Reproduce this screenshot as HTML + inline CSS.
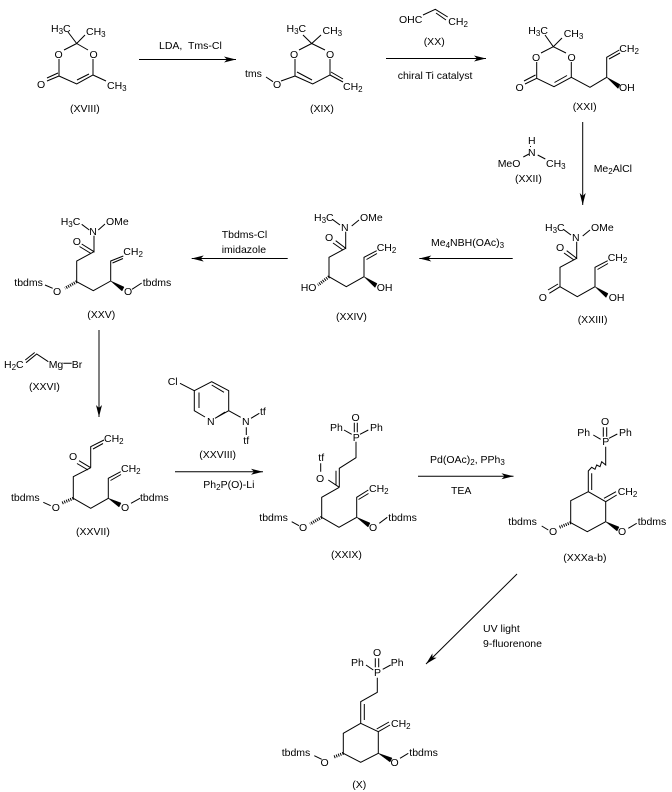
<!DOCTYPE html>
<html><head><meta charset="utf-8"><style>
html,body{margin:0;padding:0;background:#fff}
svg{display:block}
path,line{fill:none;stroke:#000;stroke-width:1}
.w{fill:#000;stroke:#000;stroke-width:.5}
.h{stroke-width:3;stroke-dasharray:1 1.2}
text{font-family:"Liberation Sans",sans-serif;font-size:10.5px;fill:#000}
.s{font-size:8px}
</style></head><body>
<svg width="672" height="792" viewBox="0 0 672 792" xmlns="http://www.w3.org/2000/svg">
<defs><marker id="a" markerUnits="userSpaceOnUse" markerWidth="14" markerHeight="8" refX="12" refY="4" orient="auto"><polygon points="0,1 12,4 0,7 3,4" fill="#000"/></marker></defs>

<!-- Arrows -->
<path marker-end="url(#a)" d="M139 59.5H236"/>
<path marker-end="url(#a)" d="M386 58.5H486"/>
<path marker-end="url(#a)" d="M582.7 122V205"/>
<path marker-end="url(#a)" d="M512.7 258.5H419.3"/>
<path marker-end="url(#a)" d="M287.7 258.5H191.7"/>
<path marker-end="url(#a)" d="M99 330V417"/>
<path marker-end="url(#a)" d="M175 471.7H263"/>
<path marker-end="url(#a)" d="M418 476.3H513.5"/>
<path marker-end="url(#a)" d="M517 574L426 664"/>

<!-- XVIII -->
<path d="M68 32L76.7 43.5L85 35M76.7 43.5L64 50M76.7 43.5L88 50M59 59V76L76.7 84L93 75V59M77 80L89 74M93 75L106 81M59 76L47 81M58 73L47 78"/>
<text x="51" y="32">H<tspan class="s" dy="2">3</tspan><tspan dy="-2">C</tspan></text>
<text x="86" y="35">CH<tspan class="s" dy="2">3</tspan></text>
<text x="54.5" y="58">O</text><text x="89.5" y="58">O</text><text x="37" y="88">O</text>
<text x="107" y="89">CH<tspan class="s" dy="2">3</tspan></text>
<text x="70" y="112">(XVIII)</text>
<text x="159" y="49">LDA,&#160; Tms-Cl</text>

<!-- XIX -->
<path d="M303 35L311.7 43.5L321 35M311.7 43.5L299 50M311.7 43.5L325 50M295 59V76L312.7 84L330 75V59M297 72L312 80M330 75L343 82M331 72L343 79M266 77L273 81.7M281 81L295 76"/>
<text x="286.5" y="32">H<tspan class="s" dy="2">3</tspan><tspan dy="-2">C</tspan></text>
<text x="322.5" y="34">CH<tspan class="s" dy="2">3</tspan></text>
<text x="290" y="58">O</text><text x="326" y="58">O</text><text x="273" y="88">O</text>
<text x="245" y="77">tms</text>
<text x="343" y="90">CH<tspan class="s" dy="2">2</tspan></text>
<text x="310" y="112">(XIX)</text>

<!-- XX -->
<path d="M423 15L435.3 9.3L447.7 17M436 13L446 20"/>
<text x="399" y="23">OHC</text>
<text x="448.3" y="25">CH<tspan class="s" dy="2">2</tspan></text>
<text x="423.7" y="45">(XX)</text>
<text x="397.7" y="79">chiral Ti catalyst</text>

<!-- XXI -->
<path d="M545 35L553.3 46.7L562 38M553.3 46.7L541 53M553.3 46.7L566 53M536.7 62V78.3L554 86.7L571.3 77.3V62M554.5 82.5L567 75.5M536.7 78.3L525 84M535.5 75L524 81M571.3 77.3L590 87.3L606.7 77.3V57.3L619.3 50M609 59L620 53"/>
<polygon class="w" points="606.7,77.3 618,88.5 620,84.5"/>
<text x="528.3" y="34">H<tspan class="s" dy="2">3</tspan><tspan dy="-2">C</tspan></text>
<text x="563.7" y="37">CH<tspan class="s" dy="2">3</tspan></text>
<text x="532" y="61">O</text><text x="567.5" y="61">O</text><text x="515.5" y="91">O</text>
<text x="619.3" y="52">CH<tspan class="s" dy="2">2</tspan></text>
<text x="619" y="91">OH</text>
<text x="572.7" y="110">(XXI)</text>

<!-- XXII -->
<path d="M530.5 147V146M523.3 157L529 154M537.7 155L545.3 159"/>
<text x="528" y="144">H</text>
<text x="528" y="156">N</text>
<text x="497.7" y="167">MeO</text>
<text x="546" y="167">CH<tspan class="s" dy="2">3</tspan></text>
<text x="515" y="182">(XXII)</text>
<text x="593.7" y="172">Me<tspan class="s" dy="2">2</tspan><tspan dy="-2">AlCl</tspan></text>

<!-- XXIII -->
<path d="M563.3 229.3L571 235M582.7 236L590 230M576.7 241.7V258.3L566.7 250.7M574 260L564 253M576.7 258.3L560 267.3V286.7L549.3 293.3M558 284L548 290M560 286.7L577.3 296.7L595 286.7V267.3L607.7 260.7M597.5 269.5L608 263.5"/>
<polygon class="w" points="595,286.7 606,297.5 608,293.5"/>
<text x="545" y="231">H<tspan class="s" dy="2">3</tspan><tspan dy="-2">C</tspan></text>
<text x="572" y="241">N</text>
<text x="591" y="231">OMe</text>
<text x="556" y="251">O</text>
<text x="538.7" y="301">O</text>
<text x="607.7" y="261">CH<tspan class="s" dy="2">2</tspan></text>
<text x="608.7" y="301">OH</text>
<text x="577.7" y="323">(XXIII)</text>
<text x="431" y="246">Me<tspan class="s" dy="2">4</tspan><tspan dy="-2">NBH(OAc)</tspan><tspan class="s" dy="2">3</tspan></text>

<!-- XXIV -->
<path d="M332.3 219.3L340 225M351.7 226L359 220M345.7 231.7V248.3L335.7 240.7M343 250L333 243M345.7 248.3L329 257.3V276.7L346.3 286.7L364 276.7V257.3L376.7 250.7M366.5 259.5L377 253.5"/>
<polygon class="w" points="364,276.7 375,287.5 377,283.5"/>
<line class="h" x1="329" y1="276.7" x2="318" y2="285"/>
<text x="314" y="221">H<tspan class="s" dy="2">3</tspan><tspan dy="-2">C</tspan></text>
<text x="341" y="231">N</text>
<text x="360" y="221">OMe</text>
<text x="325" y="241">O</text>
<text x="376.7" y="251">CH<tspan class="s" dy="2">2</tspan></text>
<text x="376.7" y="291">OH</text>
<text x="300.7" y="291">HO</text>
<text x="336" y="320">(XXIV)</text>
<text x="221.7" y="238">Tbdms-Cl</text>
<text x="221.7" y="253">imidazole</text>

<!-- XXV -->
<path d="M81.7 224.3L89.3 230M98.3 230L105 224M94 235.7V251.7L81.7 244M91 253.5L79.5 246.5M94 251.7L76.7 261V281.7L93.3 290.7L110.7 281V261L123.3 256M112.5 263L123 258.5M45 285L52.7 288.3M132 289.3L141.7 283"/>
<polygon class="w" points="110.7,281 122,291 124,287"/>
<line class="h" x1="76.7" y1="281.7" x2="65" y2="288.3"/>
<text x="60.7" y="225">H<tspan class="s" dy="2">3</tspan><tspan dy="-2">C</tspan></text>
<text x="89.3" y="235">N</text>
<text x="106" y="225">OMe</text>
<text x="72.7" y="245">O</text>
<text x="123.3" y="255">CH<tspan class="s" dy="2">2</tspan></text>
<text x="14.3" y="286">tbdms</text>
<text x="53" y="295">O</text><text x="124" y="295">O</text>
<text x="142.7" y="286">tbdms</text>
<text x="87.3" y="318">(XXV)</text>

<!-- XXVI -->
<path d="M26 362.7L36.7 354L48.3 361.7M25.3 360L34.7 352.5M63.3 363.3H71.7"/>
<text x="4" y="368">H<tspan class="s" dy="2">2</tspan><tspan dy="-2">C</tspan></text>
<text x="48.7" y="368">Mg</text>
<text x="71.7" y="368">Br</text>
<text x="29" y="390">(XXVI)</text>

<!-- XXVII -->
<path d="M90.7 467.7V446.7L104 440M93 449L103 443.5M90.7 467.7L79 460.7M88 470L77 463.5M90.7 467.7L73.3 476.7V498.3L90.7 508.3L108.3 498.3V478.3L120.7 471.7M110.5 480.5L121 474.5M43.3 502.3L50.7 505.7M131 503.3L140 498.3"/>
<polygon class="w" points="108.3,498.3 119,507 121,503"/>
<line class="h" x1="73.3" y1="498.3" x2="61.7" y2="503.3"/>
<text x="104" y="442">CH<tspan class="s" dy="2">2</tspan></text>
<text x="69" y="460">O</text>
<text x="121" y="472">CH<tspan class="s" dy="2">2</tspan></text>
<text x="11" y="501">tbdms</text>
<text x="51.7" y="511">O</text><text x="121" y="511">O</text>
<text x="140" y="501">tbdms</text>
<text x="76" y="535">(XXVII)</text>

<!-- XXVIII -->
<path d="M180 383.3L194.3 390.7L211.7 381.7L228.7 390.7V410.7L215 418.3M194.3 390.7V410.7L205 417M199 392.5V408M211.7 385L224 392.3M216.7 417.3L225 412M228.7 410.7L240.7 417.3M246.3 427.3V435M251 418.3L259.3 413.3"/>
<text x="167.7" y="385">Cl</text>
<text x="207" y="425">N</text>
<text x="242" y="425">N</text>
<text x="243.3" y="444">tf</text>
<text x="260" y="415">tf</text>
<text x="199.3" y="458">(XXVIII)</text>
<text x="203.3" y="488">Ph<tspan class="s" dy="2">2</tspan><tspan dy="-2">P(O)-Li</tspan></text>

<!-- XXIX -->
<path d="M354.3 422.7V432.3M357.3 422.7V432.3M344 430L351.7 434.3M360 434.3L368.3 430M356 441.7V457.7L339.3 468.3V487.3M336 470.7V485M339.3 487.3L321.7 497.3V517.3L339 527.3L356.7 517.3V497.3L368.3 490M358.5 499.5L368.5 493.5M320.7 463.3V471.7M328.3 480L339.3 487.3M291.7 521.7L299 525.7M379.3 523.3L387.3 517.3"/>
<polygon class="w" points="356.7,517.3 368,527 370,523"/>
<line class="h" x1="321.7" y1="517.3" x2="310" y2="524"/>
<text x="351.5" y="421">O</text>
<text x="352.7" y="441">P</text>
<text x="330" y="431">Ph</text>
<text x="370" y="431">Ph</text>
<text x="318.3" y="461">tf</text>
<text x="316" y="482">O</text>
<text x="369" y="492">CH<tspan class="s" dy="2">2</tspan></text>
<text x="259.3" y="521">tbdms</text>
<text x="299" y="531">O</text><text x="369" y="531">O</text>
<text x="388.3" y="521">tbdms</text>
<text x="331" y="558">(XXIX)</text>
<text x="430" y="463">Pd(OAc)<tspan class="s" dy="2">2</tspan><tspan dy="-2">, PPh</tspan><tspan class="s" dy="2">3</tspan></text>
<text x="451" y="494">TEA</text>

<!-- XXXa-b -->
<path d="M603.3 427.3V436.7M606.7 427.3V436.7M593.3 435L600.7 439.3M609 438.3L617.3 434M605.7 446.7V465L601.7 461.7L600 466.7L596.7 465L595 469.3L591.7 467.3L588.3 471V491.7M591.7 473.3V490M588.3 491.7L570.7 500.7V522.7L587.3 531.7L605.7 521.7V501.7L588.3 491.7M605.7 501.7L616.7 495M604 498.3L616 491.7M541.7 526L548.3 530M628.3 528.3L636.7 523.3"/>
<polygon class="w" points="605.7,521.7 617,531 619,527"/>
<line class="h" x1="570.7" y1="522.7" x2="559.3" y2="527.3"/>
<text x="601" y="425">O</text>
<text x="602.3" y="445">P</text>
<text x="577.3" y="436">Ph</text>
<text x="619" y="436">Ph</text>
<text x="617.7" y="495">CH<tspan class="s" dy="2">2</tspan></text>
<text x="508.3" y="525">tbdms</text>
<text x="549" y="535">O</text><text x="618" y="535">O</text>
<text x="637.7" y="525">tbdms</text>
<text x="563.3" y="561">(XXXa-b)</text>
<text x="483" y="632">UV light</text>
<text x="483" y="647">9-fluorenone</text>

<!-- X -->
<path d="M375.3 658.3V667.3M378.7 658.3V667.3M366 665L373.3 670M382.7 669.3L390.7 665M377.3 677.7V692.3L360.7 701.7V723.3M364.3 704V720M360.7 723.3L343.3 733.3V753.3L360.7 762.3L378.3 753.3V731.7L360.7 723.3M378.3 731.7L390 725M376.7 729L389 722M314.3 755.7L321.7 759.3M400 758.3L408.3 753.3"/>
<polygon class="w" points="378.3,753.3 390,762 392,758"/>
<line class="h" x1="343.3" y1="753.3" x2="333.3" y2="757.3"/>
<text x="373" y="656">O</text>
<text x="374" y="676">P</text>
<text x="351" y="666">Ph</text>
<text x="390.7" y="666">Ph</text>
<text x="391" y="727">CH<tspan class="s" dy="2">2</tspan></text>
<text x="281.7" y="756">tbdms</text>
<text x="320.5" y="766">O</text><text x="390.5" y="766">O</text>
<text x="409.3" y="756">tbdms</text>
<text x="352.3" y="788">(X)</text>
</svg>
</body></html>
